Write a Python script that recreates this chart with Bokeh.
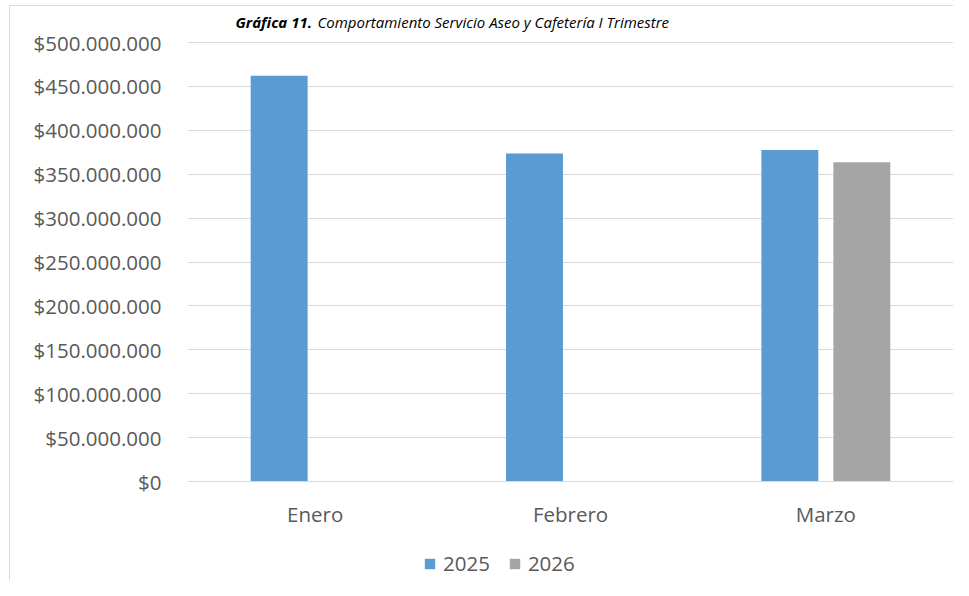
from bokeh.plotting import figure
from bokeh.models import (FactorRange, Range1d, FixedTicker, Legend, LegendItem,
                          ColumnDataSource, Label)
from bokeh.transform import dodge
from bokeh.embed import file_html
from bokeh.resources import INLINE

# ---- data ----
months = ["Enero", "Febrero", "Marzo"]
values_2025 = [462_000_000, 373_500_000, 377_500_000]
months_2026 = ["Marzo"]
values_2026 = [363_500_000]
series_names = ["2025", "2026"]
y_ticks = [0, 50_000_000, 100_000_000, 150_000_000, 200_000_000, 250_000_000,
           300_000_000, 350_000_000, 400_000_000, 450_000_000, 500_000_000]
y_tick_labels = ["$0", "$50.000.000", "$100.000.000", "$150.000.000", "$200.000.000",
                 "$250.000.000", "$300.000.000", "$350.000.000", "$400.000.000",
                 "$450.000.000", "$500.000.000"]
title_bold = "Gráfica 11."
title_rest = "Comportamiento Servicio Aseo y Cafetería I Trimestre"

FONT = "Open Sans"
TXT = "#595959"
W, H = 953, 580
FS = "20.5px"

# layout (pixels): value axis from y=42 (top tick) to y=481 (zero)
TOP_PX, ZERO_PX = 42, 481
y_max_tick = y_ticks[-1]
per_px = y_max_tick / (ZERO_PX - TOP_PX)
y_lo = -(H - ZERO_PX) * per_px
y_hi = y_max_tick + TOP_PX * per_px

box_bg = ("linear-gradient(#d9d9d9,#d9d9d9) 9px 5px / 1px 100% no-repeat, "
          "linear-gradient(#d9d9d9,#d9d9d9) 9px 5px / 100% 1px no-repeat")

p = figure(width=W, height=H, output_backend="svg", toolbar_location=None,
           x_range=FactorRange(*months, range_padding=0),
           y_range=Range1d(y_lo, y_hi),
           min_border_left=187, min_border_right=0, min_border_top=0,
           min_border_bottom=0,
           styles={"background": box_bg})
p.outline_line_color = None
p.background_fill_alpha = 0
p.border_fill_alpha = 0

src25 = ColumnDataSource(dict(m=months, v=values_2025))
src26 = ColumnDataSource(dict(m=months_2026, v=values_2026))
r25 = p.vbar(x=dodge("m", -0.141, range=p.x_range), top="v", width=0.223,
             source=src25, fill_color="#5B9BD5", line_color=None)
r26 = p.vbar(x=dodge("m", 0.141, range=p.x_range), top="v", width=0.223,
             source=src26, fill_color="#A5A5A5", line_color=None)

# y axis
yax = p.yaxis[0]
yax.ticker = FixedTicker(ticks=y_ticks)
yax.major_label_overrides = {t: l for t, l in zip(y_ticks, y_tick_labels)}
yax.axis_line_color = None
yax.major_tick_line_color = None
yax.minor_tick_line_color = None
yax.major_label_standoff = 20
yax.major_label_text_font = FONT
yax.major_label_text_font_size = FS
yax.major_label_text_color = TXT

# x axis, fixed at value 0
xax = p.xaxis[0]
xax.fixed_location = 0
xax.axis_line_color = "#d9d9d9"
xax.major_tick_line_color = None
xax.minor_tick_line_color = None
xax.major_label_standoff = 12
xax.major_label_text_font = FONT
xax.major_label_text_font_size = FS
xax.major_label_text_color = TXT

p.xgrid.grid_line_color = None
p.ygrid.grid_line_color = "#d9d9d9"
p.ygrid.grid_line_width = 1

legend = Legend(items=[LegendItem(label=series_names[0], renderers=[r25]),
                       LegendItem(label=series_names[1], renderers=[r26])],
                location=(236, 3), orientation="horizontal",
                glyph_width=13, glyph_height=13, label_standoff=7, spacing=18,
                padding=0, margin=0, border_line_color=None,
                background_fill_alpha=0,
                label_text_font=FONT, label_text_font_size=FS,
                label_text_color=TXT)
p.add_layout(legend, "center")

# title
p.add_layout(Label(x=48, y=H - 21, x_units="screen", y_units="screen",
                   text=title_bold, text_font=FONT, text_font_size="15px",
                   text_font_style="bold italic", text_color="black",
                   text_baseline="alphabetic"))
p.add_layout(Label(x=130, y=H - 21, x_units="screen", y_units="screen",
                   text=title_rest, text_font=FONT, text_font_size="15px",
                   text_font_style="italic", text_color="black",
                   text_baseline="alphabetic"))

open("out.html", "w").write(file_html(p, INLINE))
